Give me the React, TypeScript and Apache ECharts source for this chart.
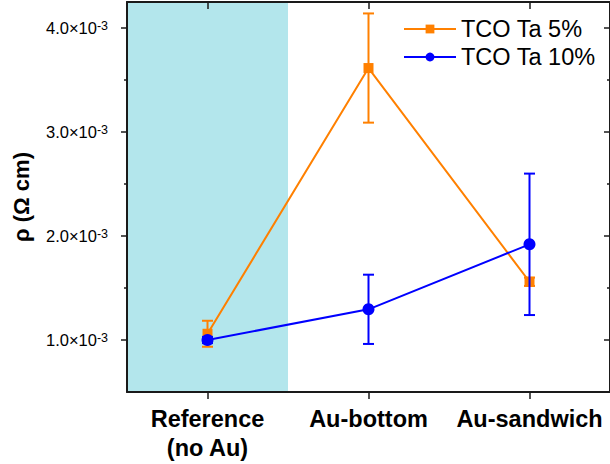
import React, { useEffect, useRef } from "react";
import * as echarts from "echarts";

// Resistivity in units of 10^-3 Ω cm
const categories = ["Reference\n(no Au)", "Au-bottom", "Au-sandwich"];
const ta5Values = [1.06, 3.615, 1.56];
const ta5Errors = [0.125, 0.525, 0.04];
const ta10Values = [1.0, 1.295, 1.92];
const ta10Errors = [0.03, 0.333, 0.68];
const bandCategory = [0]; // shaded reference column
const yMajorTicks = [1, 2, 3, 4];
const yMinorTicks = [1.5, 2.5, 3.5];
const yMin = 0.5;
const yMax = 4.25;

const FONT = "'Liberation Sans', Arial, Helvetica, sans-serif";
const ORANGE = "#ff8000";
const BLUE = "#0000ff";
const AXIS = "#1a1a1a";

function errorBarSeries(values: number[], errors: number[], color: string, z: number) {
  return {
    type: "custom",
    z,
    silent: true,
    data: values.map((v, i) => [i, v - errors[i], v + errors[i]]),
    renderItem: (_params: any, api: any) => {
      const idx = api.value(0);
      const lo = api.coord([idx, api.value(1)]);
      const hi = api.coord([idx, api.value(2)]);
      const half = 5.5;
      const style = { stroke: color, lineWidth: 2, fill: "none" };
      return {
        type: "group",
        children: [
          { type: "line", shape: { x1: lo[0], y1: lo[1], x2: hi[0], y2: hi[1] }, style },
          { type: "line", shape: { x1: lo[0] - half, y1: lo[1], x2: lo[0] + half, y2: lo[1] }, style },
          { type: "line", shape: { x1: hi[0] - half, y1: hi[1], x2: hi[0] + half, y2: hi[1] }, style },
        ],
      };
    },
  };
}

export default function App() {
  const ref = useRef<HTMLDivElement>(null);

  useEffect(() => {
    if (!ref.current) return;
    const chart = echarts.init(ref.current, undefined, { renderer: "svg" });

    const yLabelFormatter = (v: number) => `{m|${v.toFixed(1)}×10}{e|-3}`;

    chart.setOption({
      animation: false,
      backgroundColor: "#ffffff",
      textStyle: { fontFamily: FONT },
      grid: { left: 127, right: -2, top: 2, bottom: 72, containLabel: false },
      legend: {
        orient: "vertical",
        left: 398,
        top: 12,
        itemWidth: 52,
        itemHeight: 11,
        itemGap: 4,
        data: ["TCO Ta 5%", "TCO Ta 10%"],
        textStyle: { fontFamily: FONT, fontSize: 23.5, color: "#000" },
      },
      xAxis: [
        {
          type: "category",
          data: categories,
          position: "bottom",
          axisLine: { show: true, lineStyle: { color: AXIS, width: 2 } },
          axisTick: { show: true, alignWithLabel: true, inside: false, length: 7, lineStyle: { color: AXIS, width: 1.5 } },
          axisLabel: {
            interval: 0,
            margin: 12,
            fontFamily: FONT,
            fontSize: 23.5,
            fontWeight: "bold",
            color: "#000",
            lineHeight: 29,
          },
          splitLine: { show: false },
        },
        {
          type: "category",
          data: categories,
          position: "top",
          axisLine: { show: true, lineStyle: { color: AXIS, width: 2 } },
          axisTick: { show: true, alignWithLabel: true, inside: true, length: 7, lineStyle: { color: AXIS, width: 1.5 } },
          axisLabel: { show: false },
          splitLine: { show: false },
        },
      ],
      yAxis: [
        {
          type: "value",
          position: "left",
          min: yMin,
          max: yMax,
          name: "ρ (Ω cm)",
          nameLocation: "middle",
          nameRotate: 90,
          nameGap: 95,
          nameTextStyle: { fontFamily: FONT, fontSize: 22, fontWeight: "bold", color: "#000" },
          axisLine: { show: true, lineStyle: { color: AXIS, width: 2 } },
          axisTick: { show: true, inside: false, length: 6, customValues: yMajorTicks, lineStyle: { color: AXIS, width: 1.5 } },
          axisLabel: {
            customValues: yMajorTicks,
            margin: 19,
            formatter: yLabelFormatter,
            rich: {
              m: { fontFamily: FONT, fontSize: 16.5, color: "#000" },
              e: { fontFamily: FONT, fontSize: 12.5, color: "#000", verticalAlign: "top" },
            },
          },
          splitLine: { show: false },
        },
        {
          type: "value",
          position: "left",
          min: yMin,
          max: yMax,
          axisLine: { show: false },
          axisTick: { show: true, inside: false, length: 3, customValues: yMinorTicks, lineStyle: { color: AXIS, width: 1.5 } },
          axisLabel: { show: false },
          splitLine: { show: false },
        },
        {
          type: "value",
          position: "right",
          min: yMin,
          max: yMax,
          axisLine: { show: true, lineStyle: { color: AXIS, width: 2 } },
          axisTick: { show: true, inside: true, length: 6, customValues: yMajorTicks, lineStyle: { color: AXIS, width: 1.5 } },
          axisLabel: { show: false },
          splitLine: { show: false },
        },
        {
          type: "value",
          position: "right",
          min: yMin,
          max: yMax,
          axisLine: { show: false },
          axisTick: { show: true, inside: true, length: 3, customValues: yMinorTicks, lineStyle: { color: AXIS, width: 1.5 } },
          axisLabel: { show: false },
          splitLine: { show: false },
        },
      ],
      series: [
        {
          type: "custom",
          z: 0,
          silent: true,
          data: bandCategory.map((c) => [c, yMin, yMax]),
          renderItem: (_params: any, api: any) => {
            const idx = api.value(0);
            const top = api.coord([idx, api.value(2)]);
            const bottom = api.coord([idx, api.value(1)]);
            const w = api.size([1, 0])[0];
            return {
              type: "rect",
              shape: { x: top[0] - w / 2, y: top[1], width: w, height: bottom[1] - top[1] },
              style: { fill: "#b3e6ec" },
            };
          },
        },
        {
          name: "TCO Ta 5%",
          type: "line",
          z: 3,
          data: ta5Values,
          symbol: "rect",
          symbolSize: 10,
          itemStyle: { color: ORANGE },
          lineStyle: { color: ORANGE, width: 2 },
        },
        errorBarSeries(ta5Values, ta5Errors, ORANGE, 3),
        {
          name: "TCO Ta 10%",
          type: "line",
          z: 4,
          data: ta10Values,
          symbol: "circle",
          symbolSize: 12,
          itemStyle: { color: BLUE },
          lineStyle: { color: BLUE, width: 2 },
        },
        errorBarSeries(ta10Values, ta10Errors, BLUE, 4),
      ],
    });

    return () => chart.dispose();
  }, []);

  return (
    <div
      ref={ref}
      style={{ position: "fixed", left: 0, top: 0, width: 610, height: 464, background: "#fff" }}
    />
  );
}
